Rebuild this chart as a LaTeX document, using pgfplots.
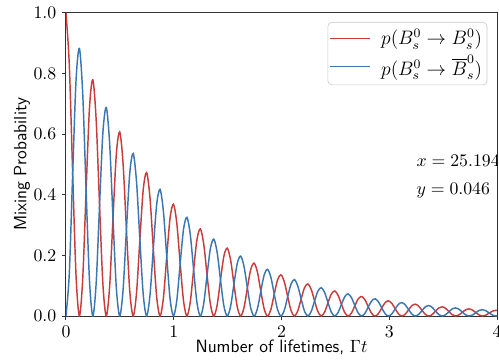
\documentclass[border=0pt]{standalone}
\usepackage{pgfplots}
\usepackage{pgfplotstable}
\pgfplotsset{compat=1.18}
\definecolor{cred}{RGB}{200,60,60}
\definecolor{cblue}{RGB}{58,118,178}
\pgfplotsset{
  mylegline/.style={legend image code/.code={\draw[##1] (0pt,0pt) -- (24.5pt,0pt); \path (29pt,0pt);}},
}
\pgfplotstableread{
t r b
0.0000 1.0000 0.0000
0.0312 0.8274 0.1420
0.0623 0.4698 0.4698
0.0935 0.1334 0.7774
0.1247 0.0000 0.8828
0.1559 0.1253 0.7304
0.1870 0.4147 0.4147
0.2182 0.6862 0.1177
0.2494 0.7793 0.0000
0.2806 0.6447 0.1106
0.3117 0.3661 0.3661
0.3429 0.1039 0.6058
0.3741 0.0000 0.6879
0.4053 0.0977 0.5692
0.4364 0.3232 0.3232
0.4676 0.5348 0.0918
0.4988 0.6073 0.0000
0.5300 0.5024 0.0862
0.5611 0.2853 0.2853
0.5923 0.0810 0.4721
0.6235 0.0000 0.5361
0.6547 0.0761 0.4435
0.6858 0.2518 0.2518
0.7170 0.4167 0.0715
0.7482 0.4732 0.0000
0.7793 0.3915 0.0672
0.8105 0.2223 0.2223
0.8417 0.0631 0.3679
0.8729 0.0000 0.4178
0.9041 0.0593 0.3456
0.9352 0.1963 0.1963
0.9664 0.3247 0.0557
0.9976 0.3688 0.0000
1.0287 0.3051 0.0524
1.0599 0.1732 0.1732
1.0911 0.0492 0.2867
1.1223 0.0000 0.3255
1.1534 0.0462 0.2693
1.1846 0.1529 0.1529
1.2158 0.2531 0.0434
1.2470 0.2874 0.0000
1.2781 0.2378 0.0408
1.3093 0.1350 0.1350
1.3405 0.0383 0.2234
1.3717 0.0000 0.2537
1.4028 0.0360 0.2099
1.4340 0.1192 0.1192
1.4652 0.1972 0.0338
1.4964 0.2240 0.0000
1.5275 0.1853 0.0318
1.5587 0.1052 0.1052
1.5899 0.0299 0.1741
1.6211 0.0000 0.1977
1.6522 0.0281 0.1636
1.6834 0.0929 0.0929
1.7146 0.1537 0.0264
1.7457 0.1745 0.0000
1.7769 0.1444 0.0248
1.8081 0.0820 0.0820
1.8393 0.0233 0.1357
1.8704 0.0000 0.1541
1.9016 0.0219 0.1275
1.9328 0.0724 0.0724
1.9640 0.1198 0.0205
1.9951 0.1360 0.0000
2.0263 0.1125 0.0193
2.0575 0.0639 0.0639
2.0887 0.0181 0.1057
2.1198 0.0000 0.1201
2.1510 0.0170 0.0993
2.1822 0.0564 0.0564
2.2134 0.0933 0.0160
2.2445 0.1060 0.0000
2.2757 0.0877 0.0150
2.3069 0.0498 0.0498
2.3381 0.0141 0.0824
2.3692 0.0000 0.0936
2.4004 0.0133 0.0774
2.4316 0.0440 0.0440
2.4628 0.0727 0.0125
2.4939 0.0826 0.0000
2.5251 0.0683 0.0117
2.5563 0.0388 0.0388
2.5874 0.0110 0.0642
2.6186 0.0000 0.0729
2.6498 0.0104 0.0603
2.6810 0.0343 0.0343
2.7121 0.0567 0.0097
2.7433 0.0644 0.0000
2.7745 0.0532 0.0091
2.8057 0.0302 0.0302
2.8368 0.0086 0.0500
2.8680 0.0000 0.0568
2.8992 0.0081 0.0470
2.9304 0.0267 0.0267
2.9615 0.0442 0.0076
2.9927 0.0502 0.0000
3.0239 0.0415 0.0071
3.0551 0.0236 0.0236
3.0862 0.0067 0.0390
3.1174 0.0000 0.0443
3.1486 0.0063 0.0366
3.1798 0.0208 0.0208
3.2109 0.0344 0.0059
3.2421 0.0391 0.0000
3.2733 0.0323 0.0056
3.3044 0.0184 0.0184
3.3356 0.0052 0.0304
3.3668 0.0000 0.0345
3.3980 0.0049 0.0285
3.4291 0.0162 0.0162
3.4603 0.0268 0.0046
3.4915 0.0305 0.0000
3.5227 0.0252 0.0043
3.5538 0.0143 0.0143
3.5850 0.0041 0.0237
3.6162 0.0000 0.0269
3.6474 0.0038 0.0223
3.6785 0.0126 0.0126
3.7097 0.0209 0.0036
3.7409 0.0237 0.0000
3.7720 0.0196 0.0034
3.8032 0.0112 0.0112
3.8344 0.0032 0.0185
3.8656 0.0000 0.0210
3.8967 0.0030 0.0173
3.9279 0.0098 0.0098
3.9591 0.0163 0.0028
3.9903 0.0185 0.0000
4.0000 0.0182 0.0004
}\mixdata
\begin{document}
\begin{tikzpicture}
\begin{axis}[
  name=ax,
  scale only axis,
  width=266pt, height=187pt,
  xmin=0, xmax=4, ymin=0, ymax=1,
  xtick={0,1,2,3,4},
  ytick={0,0.2,0.4,0.6,0.8,1.0},
  yticklabel style={/pgf/number format/.cd, fixed, fixed zerofill, precision=1},
  tick pos=left,
  tick align=outside,
  major tick length=2.5pt,
  tick style={black!80, line width=0.6pt},
  axis line style={black!80, line width=0.6pt},
  ticklabel style={font=\fontsize{11}{13}\selectfont},
  xlabel={\sffamily Number of lifetimes, $\Gamma t$},
  ylabel={\sffamily Mixing Probability},
  label style={font=\fontsize{11}{13}\selectfont},
  xlabel style={at={(axis description cs:0.5,-0.102)}, anchor=center},
  ylabel style={at={(axis description cs:-0.102,0.5)}, anchor=center},
  mylegline,
  legend style={at={(1,1)}, anchor=north east, xshift=-6pt, yshift=-5.5pt,
    draw=black!20, rounded corners=2.5pt, fill=white,
    font=\fontsize{11.5}{13.5}\selectfont, row sep=1pt,
    inner xsep=1pt, inner ysep=2.5pt, cells={anchor=west}},
]
\addplot[cred, line width=0.9pt, smooth] table[x=t, y=r] {\mixdata};
\addlegendentry{$p(B_s^0\rightarrow B_s^0)$}
\addplot[cblue, line width=0.9pt, smooth] table[x=t, y=b] {\mixdata};
\addlegendentry{$p(B_s^0\rightarrow \overline{B}_s^0)$}
\node[anchor=west, font=\fontsize{11}{13}\selectfont] at (axis cs:3.20,0.513) {$x = 25.194$};
\node[anchor=west, font=\fontsize{11}{13}\selectfont] at (axis cs:3.20,0.414) {$y = 0.046$};
\end{axis}
\pgfresetboundingbox
\path[use as bounding box] ([xshift=-40.7pt,yshift=-28.4pt]ax.south west) rectangle ([xshift=1.2pt,yshift=8pt]ax.north east);
\end{tikzpicture}
\end{document}
